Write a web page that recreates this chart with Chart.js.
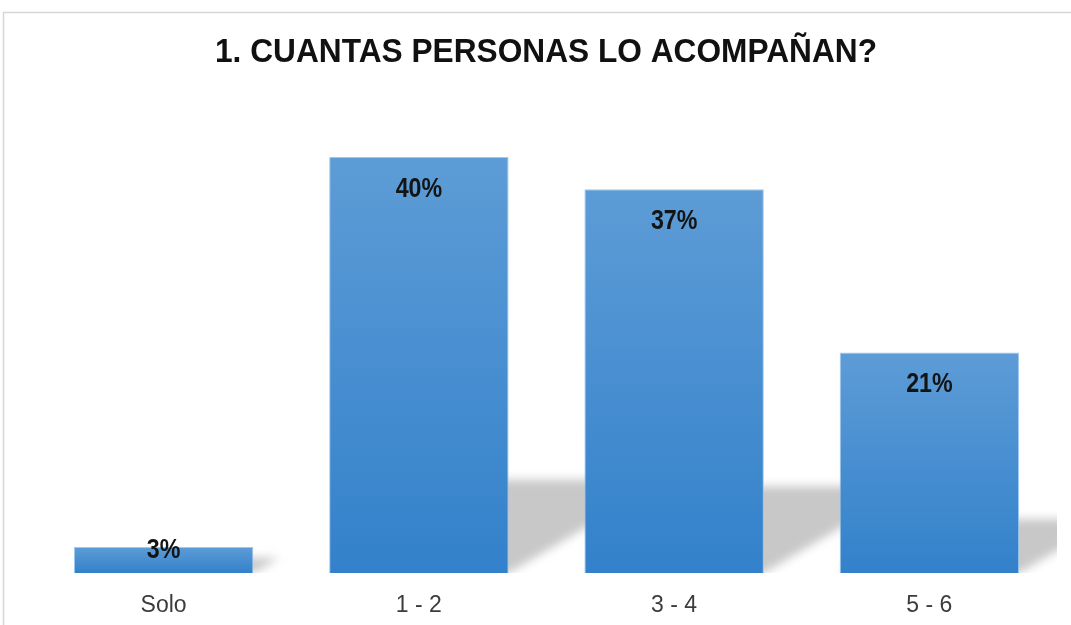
<!DOCTYPE html>
<html><head><meta charset="utf-8">
<script src="https://cdn.jsdelivr.net/npm/chart.js@4/dist/chart.umd.min.js"></script>
<style>html,body{margin:0;padding:0;background:#fff;overflow:hidden}#wrap{width:1071px;height:625px;position:relative}</style>
</head><body><div id="wrap"><canvas id="c" width="1071" height="625"></canvas></div>
<script>
const TITLE = '1. CUANTAS PERSONAS LO ACOMPAÑAN?';
const categories = ['Solo', '1 - 2', '3 - 4', '5 - 6'];
const values = [2.5, 40, 36.9, 21.2];
const valueLabels = ['3%', '40%', '37%', '21%'];

const FONT = "'Liberation Sans', Arial, sans-serif";

const framePlugin = {
  id: 'frame',
  beforeDraw(chart) {
    const ctx = chart.ctx;
    ctx.save();
    ctx.fillStyle = '#ffffff';
    ctx.fillRect(0, 0, chart.width, chart.height);
    ctx.strokeStyle = '#d6d6d6';
    ctx.lineWidth = 1.5;
    ctx.strokeRect(3.5, 12.5, chart.width + 20, chart.height + 20);
    ctx.restore();
  }
};

const shadowPlugin = {
  id: 'shadows',
  beforeDatasetsDraw(chart) {
    const ctx = chart.ctx;
    const area = chart.chartArea;
    const meta = chart.getDatasetMeta(0);
    ctx.save();
    ctx.beginPath();
    ctx.rect(area.left, area.top, area.right - area.left, area.bottom - area.top);
    ctx.clip();
    ctx.filter = 'blur(5px)';
    ctx.fillStyle = '#c8c8c8';
    meta.data.forEach(el => {
      const p = el.getProps(['x', 'y', 'base', 'width'], true);
      const h = p.base - p.y;
      const sh = 0.2 * h + 10;
      const dx = 1.7 * sh;
      const l = p.x - p.width / 2, r = p.x + p.width / 2;
      ctx.beginPath();
      ctx.moveTo(l, p.base);
      ctx.lineTo(r, p.base);
      ctx.lineTo(r + dx, p.base - sh);
      ctx.lineTo(l + dx, p.base - sh);
      ctx.closePath();
      ctx.fill();
    });
    ctx.restore();
  }
};

function drawCondensed(ctx, text, cx, baseline, font, sx, color) {
  ctx.save();
  ctx.font = font;
  ctx.fillStyle = color;
  ctx.textAlign = 'center';
  ctx.textBaseline = 'alphabetic';
  ctx.translate(cx, baseline);
  ctx.scale(sx, 1);
  ctx.fillText(text, 0, 0);
  ctx.restore();
}

const labelPlugin = {
  id: 'valueLabels',
  afterDatasetsDraw(chart) {
    const ctx = chart.ctx;
    const meta = chart.getDatasetMeta(0);
    meta.data.forEach((el, i) => {
      const p = el.getProps(['x', 'y', 'base'], true);
      const h = p.base - p.y;
      const cy = h > 60 ? p.y + 30 : p.y + 1;
      drawCondensed(ctx, valueLabels[i], p.x, cy + 9.5, 'bold 27px ' + FONT, 0.86, '#141414');
    });
  }
};

const titlePlugin = {
  id: 'customTitle',
  afterDraw(chart) {
    const ctx = chart.ctx;
    ctx.save();
    ctx.font = 'bold 33px ' + FONT;
    const w = ctx.measureText(TITLE).width;
    ctx.restore();
    drawCondensed(ctx, TITLE, 546, 62, 'bold 33px ' + FONT, 662 / w, '#111111');
  }
};

new Chart(document.getElementById('c'), {
  type: 'bar',
  data: {
    labels: categories,
    datasets: [{
      data: values,
      backgroundColor: (c) => {
        const chart = c.chart;
        if (!chart.chartArea || c.raw === undefined) return '#4a8fd0';
        const ys = chart.scales.y;
        const top = ys.getPixelForValue(c.raw);
        const base = ys.getPixelForValue(0);
        const g = chart.ctx.createLinearGradient(0, top, 0, base);
        g.addColorStop(0, '#5d9cd6');
        g.addColorStop(1, '#3381cb');
        return g;
      },
      borderColor: 'rgba(150,195,238,0.9)',
      borderWidth: 1,
      barPercentage: 1,
      categoryPercentage: 0.703
    }]
  },
  options: {
    responsive: false,
    animation: false,
    devicePixelRatio: 1,
    layout: { padding: { top: 105, left: 36, right: 14, bottom: 0 } },
    plugins: { legend: { display: false }, tooltip: { enabled: false }, title: { display: false } },
    scales: {
      y: { display: false, min: 0, max: 45 },
      x: {
        afterFit(scale) { scale.height = 52; },
        grid: { display: false, drawTicks: false },
        border: { display: false },
        ticks: { color: '#3c3c3c', padding: 19, font: { family: FONT, size: 23 } }
      }
    }
  },
  plugins: [framePlugin, shadowPlugin, labelPlugin, titlePlugin]
});
</script></body></html>
